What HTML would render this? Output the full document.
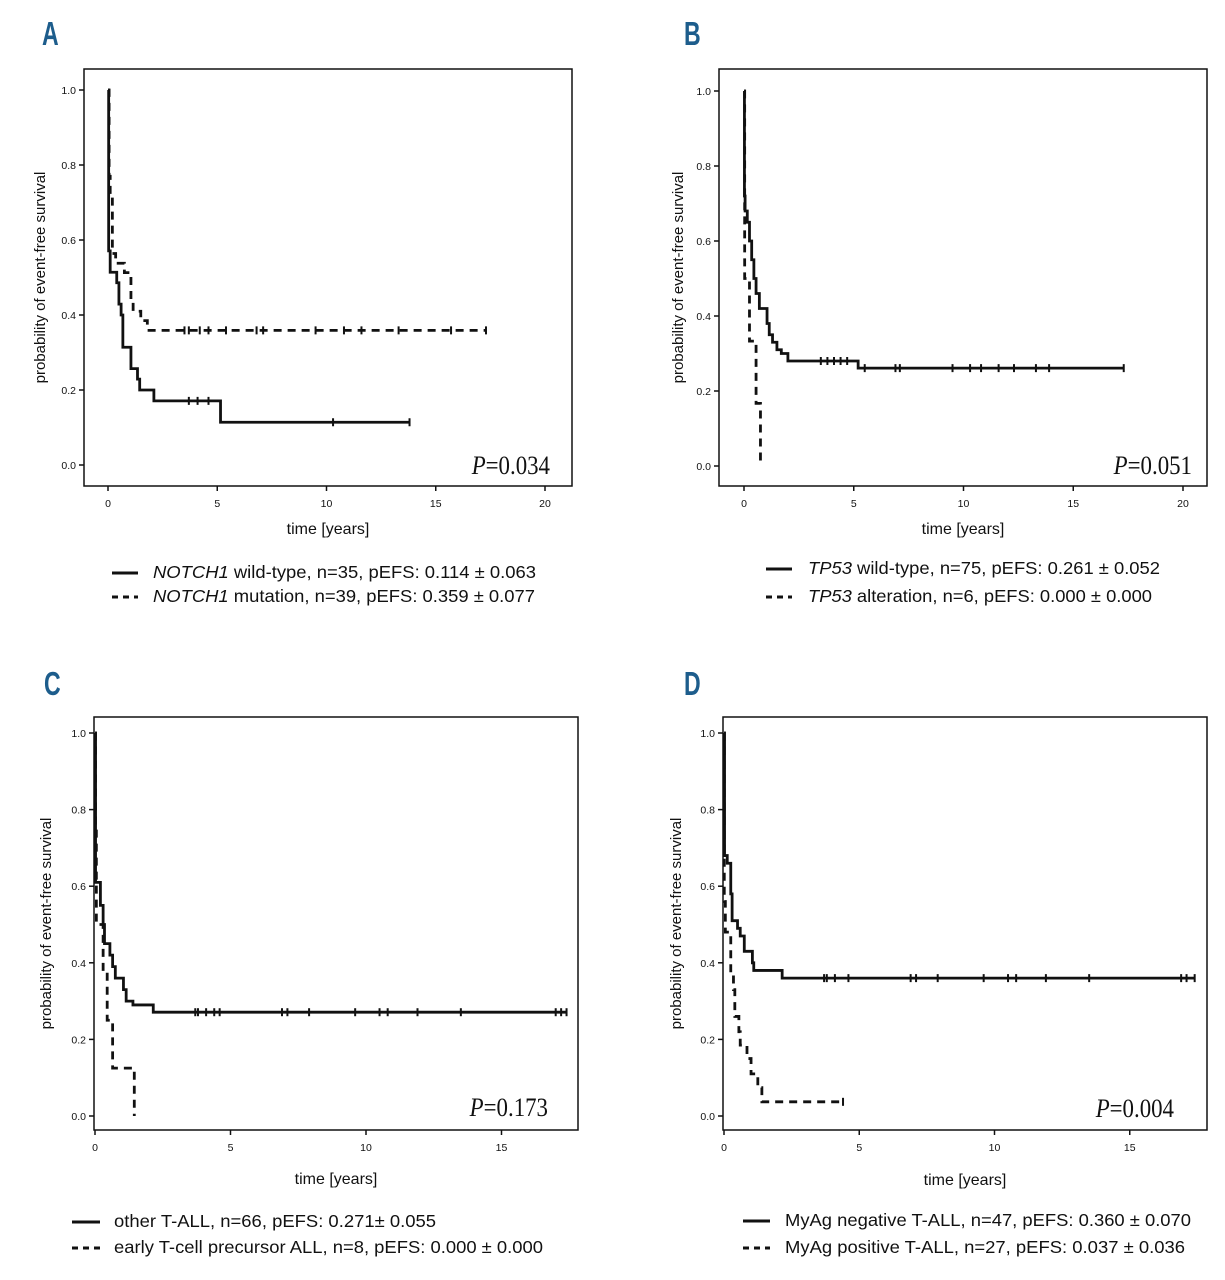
<!DOCTYPE html>
<html><head><meta charset="utf-8"><style>
body{margin:0;background:#fff}
svg{display:block}
text{font-family:"Liberation Sans",sans-serif;fill:#111}
</style></head><body>
<svg id="c" width="1225" height="1280" viewBox="0 0 1225 1280"></svg>
<script>
// Panel A
const aSolidT=[0,0.03,0.1,0.4,0.5,0.6,0.68,1.05,1.35,1.45,2.1,5.15];
const aSolidS=[1,0.571,0.514,0.486,0.429,0.4,0.314,0.257,0.229,0.2,0.171,0.114];
const aSolidEnd=13.8;
const aSolidCens=[3.7,4.1,4.6,10.3,13.8];
const aDashT=[0,0.05,0.1,0.2,0.35,0.75,1.05,1.15,1.5,1.8];
const aDashS=[1,0.77,0.72,0.564,0.538,0.513,0.436,0.41,0.385,0.359];
const aDashEnd=17.3;
const aDashCens=[3.5,3.7,4.2,4.6,5.4,6.8,7.1,9.5,10.8,11.6,13.3,15.7,17.3];
// Panel B
const bSolidT=[0,0.02,0.05,0.15,0.25,0.35,0.45,0.55,0.7,1.05,1.15,1.3,1.5,1.7,2.0,5.2];
const bSolidS=[1,0.72,0.68,0.65,0.6,0.55,0.5,0.46,0.42,0.38,0.35,0.33,0.31,0.3,0.28,0.261];
const bSolidEnd=17.3;
const bSolidCens=[3.5,3.8,4.1,4.4,4.7,5.5,6.9,7.1,9.5,10.3,10.8,11.6,12.3,13.3,13.9,17.3];
const bDashT=[0,0.03,0.25,0.55,0.75];
const bDashS=[1,0.5,0.333,0.167,0];
const bDashEnd=0.75;
const bDashCens=[];
// Panel C
const cSolidT=[0,0.02,0.2,0.3,0.35,0.55,0.65,0.75,1.05,1.15,1.4,2.15];
const cSolidS=[1,0.61,0.55,0.5,0.45,0.42,0.39,0.36,0.33,0.3,0.29,0.271];
const cSolidEnd=17.4;
const cSolidCens=[3.7,3.8,4.1,4.4,4.6,6.9,7.1,7.9,9.6,10.5,10.8,11.9,13.5,17.0,17.2,17.4];
const cDashT=[0,0.02,0.05,0.3,0.45,0.65,1.45];
const cDashS=[1,0.75,0.5,0.375,0.25,0.125,0];
const cDashEnd=1.45;
const cDashCens=[];
// Panel D
const dSolidT=[0,0.02,0.12,0.25,0.3,0.5,0.6,0.75,1.05,1.1,2.15];
const dSolidS=[1,0.68,0.66,0.58,0.51,0.49,0.47,0.43,0.4,0.38,0.36];
const dSolidEnd=17.4;
const dSolidCens=[3.7,3.8,4.1,4.6,6.9,7.1,7.9,9.6,10.5,10.8,11.9,13.5,16.9,17.1,17.4];
const dDashT=[0,0.01,0.05,0.25,0.35,0.4,0.55,0.6,0.85,1.0,1.25,1.4];
const dDashS=[1,0.56,0.48,0.37,0.33,0.26,0.22,0.185,0.15,0.11,0.074,0.037];
const dDashEnd=4.4;
const dDashCens=[4.4];

const yTicks=["0.0","0.2","0.4","0.6","0.8","1.0"];
const xTicksAB=[0,5,10,15,20];
const xTicksCD=[0,5,10,15];

const NS="http://www.w3.org/2000/svg";
const svg=document.getElementById('c');
function mk(tag,attrs,parent){const e=document.createElementNS(NS,tag);for(const k in attrs)e.setAttribute(k,attrs[k]);(parent||svg).appendChild(e);return e;}
function survAt(T,S,t){let s=S[0];for(let i=0;i<T.length;i++){if(T[i]<=t)s=S[i];}return s;}

const panels=[
 {id:'a',letter:'A',lx:42,ly:45,box:[84,69,572,486],x0:108,xpy:21.85,y0:465,y1:90,xt:xTicksAB,ylx:40,xly:534,
  p:'0.034',px:550,py:474,series:[[aSolidT,aSolidS,aSolidEnd,aSolidCens,false],[aDashT,aDashS,aDashEnd,aDashCens,true]],
  leg:[[112,138,153,578,383,'NOTCH1',' wild-type, n=35, pEFS: 0.114 ± 0.063'],[112,138,153,602,382,'NOTCH1',' mutation, n=39, pEFS: 0.359 ± 0.077']]},
 {id:'b',letter:'B',lx:684,ly:45,box:[719,69,1207,486],x0:744,xpy:21.95,y0:466,y1:91,xt:xTicksAB,ylx:678,xly:534,
  p:'0.051',px:1192,py:474,series:[[bSolidT,bSolidS,bSolidEnd,bSolidCens,false],[bDashT,bDashS,bDashEnd,bDashCens,true]],
  leg:[[766,792,808,574,352,'TP53',' wild-type, n=75, pEFS: 0.261 ± 0.052'],[766,792,808,602,344,'TP53',' alteration, n=6, pEFS: 0.000 ± 0.000']]},
 {id:'c',letter:'C',lx:44,ly:695,box:[94,717,578,1130],x0:95,xpy:27.1,y0:1116,y1:733,xt:xTicksCD,ylx:46,xly:1184,
  p:'0.173',px:548,py:1116,series:[[cSolidT,cSolidS,cSolidEnd,cSolidCens,false],[cDashT,cDashS,cDashEnd,cDashCens,true]],
  leg:[[72,100,114,1227,322,'','other T-ALL, n=66, pEFS: 0.271± 0.055'],[72,100,114,1253,429,'','early T-cell precursor ALL, n=8, pEFS: 0.000 ± 0.000']]},
 {id:'d',letter:'D',lx:684,ly:695,box:[723,717,1207,1130],x0:724,xpy:27.05,y0:1116,y1:733,xt:xTicksCD,ylx:676,xly:1185,
  p:'0.004',px:1174,py:1117,series:[[dSolidT,dSolidS,dSolidEnd,dSolidCens,false],[dDashT,dDashS,dDashEnd,dDashCens,true]],
  leg:[[743,770,785,1226,406,'','MyAg negative T-ALL, n=47, pEFS: 0.360 ± 0.070'],[743,770,785,1253,400,'','MyAg positive T-ALL, n=27, pEFS: 0.037 ± 0.036']]}
];

panels.forEach(P=>{
 const g=mk('g',{});
 
 
 const X=t=>P.x0+t*P.xpy, Y=s=>P.y0+(P.y1-P.y0)*s;
 const L=mk('text',{x:P.lx,y:P.ly,'font-size':33,'font-weight':'bold',style:'fill:#1d5d8c',transform:`translate(${P.lx},${P.ly}) scale(0.7,1) translate(${-P.lx},${-P.ly})`},g);
 L.textContent=P.letter;
 
 
 const [bx1,by1,bx2,by2]=P.box;
 const box=mk('rect',{x:bx1,y:by1,width:bx2-bx1,height:by2-by1,fill:'none',stroke:'#111','stroke-width':1.5},g);
 
 
 yTicks.forEach((lab,i)=>{
  const y=Y(+lab);
  mk('line',{x1:bx1-5,x2:bx1,y1:y,y2:y,stroke:'#111','stroke-width':1.5},g);
  const t=mk('text',{x:bx1-8,y:y+4,'font-size':10.5,'text-anchor':'end'},g);t.textContent=lab;
  
  
 });
 P.xt.forEach(v=>{
  const x=X(v);
  mk('line',{x1:x,x2:x,y1:by2,y2:by2+5,stroke:'#111','stroke-width':1.5},g);
  const t=mk('text',{x:x,y:by2+21,'font-size':10.5,'text-anchor':'middle'},g);t.textContent=v;
  
  
 });
 const yl=mk('text',{x:0,y:0,'font-size':15,'text-anchor':'middle',transform:`translate(${P.ylx+5},${(by1+by2)/2}) rotate(-90)`},g);
 yl.textContent='probability of event-free survival';
 
 
 const xl=mk('text',{x:(bx1+bx2)/2,y:P.xly,'font-size':16,'text-anchor':'middle'},g);
 xl.textContent='time [years]';
 
 
 const pt=mk('text',{x:P.px,y:P.py,'font-size':26,'text-anchor':'end',style:'font-family:"Liberation Serif",serif;fill:#111',transform:`translate(${P.px},${P.py}) scale(0.88,1) translate(${-P.px},${-P.py})`},g);
 pt.innerHTML='<tspan font-style="italic">P</tspan>='+P.p;
 
 
 P.series.forEach(([T,S,end,cens,dashed],si)=>{
  let d=`M${X(T[0])},${Y(S[0])}`;
  for(let i=1;i<T.length;i++){d+=` H${X(T[i])} V${Y(S[i])}`;}
  d+=` H${X(end)}`;
  const p=mk('path',{d:d,fill:'none',stroke:'#111','stroke-width':2.8,'stroke-dasharray':dashed?'8,6':'none'},g);
  
  
  cens.forEach(c=>{
   const s=survAt(T,S,c);
   const cm=mk('line',{x1:X(c),x2:X(c),y1:Y(s)-4,y2:Y(s)+4,stroke:'#111','stroke-width':2},g);
   
   
  });
 });
 P.leg.forEach(([x1,x2,tx,y,w,it,rest],i)=>{
  const ln=mk('line',{x1:x1,x2:x2,y1:y-5,y2:y-5,stroke:'#111','stroke-width':3,'stroke-dasharray':i?'6,5':'none'},g);
  
  
  const t=mk('text',{x:tx,y:y,'font-size':17.5,textLength:w,lengthAdjust:'spacingAndGlyphs'},g);
  t.innerHTML=(it?'<tspan font-style="italic">'+it+'</tspan>':'')+rest;
  
  
 });
});
</script>
</body></html>
